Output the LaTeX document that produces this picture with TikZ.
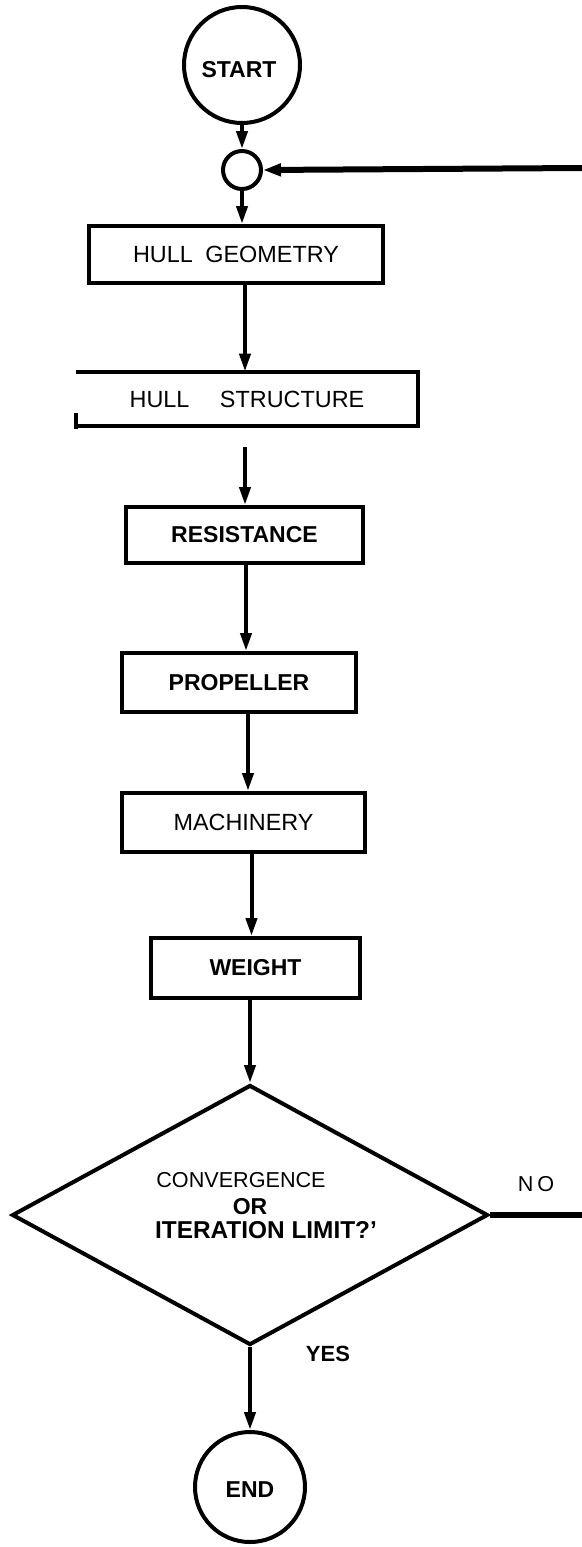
\documentclass[tikz,border=0pt]{standalone}
\usepackage{fontspec}
\setmainfont{Liberation Sans}
\usetikzlibrary{arrows.meta,shapes.geometric}

\tikzset{
  flow/.style={line width=2pt},
  arr/.style={line width=2pt, -{Triangle[length=9pt,width=5.5pt]}},
  loopline/.style={line width=3pt},
  box/.style={draw, rectangle, line width=2pt, inner sep=0pt},
  openbox/.style={rectangle, inner sep=0pt},
  term/.style={draw, circle, line width=2pt, inner sep=0pt},
  decision/.style={draw, diamond, line width=2pt, inner sep=0pt},
  reg/.style={font=\fontsize{11.7}{14}\selectfont},
  bld/.style={font=\fontsize{11.5}{14}\selectfont\bfseries},
}

\begin{document}
\begin{tikzpicture}[x=0.5pt, y=-0.5pt]
  \useasboundingbox (0,0) rectangle (582,1547);

  % terminals and junction
  \node[term, minimum size=58pt] (start) at (242,65) {};
  \node[bld] (starttxt) at (239,70) {START};
  \node[term, minimum size=19pt] (join) at (242,170) {};

  % process boxes
  \node[box, minimum width=147pt, minimum height=28.5pt, reg] (hg) at (236,254.5)
       {HULL\hspace{3pt} GEOMETRY};
  \node[openbox, minimum width=171pt, minimum height=27pt, reg] (hs) at (247,399)
       {HULL\hspace{12pt} STRUCTURE};
  \node[box, minimum width=118.5pt, minimum height=28pt, bld] (res) at (244.5,535)
       {RESISTANCE};
  \node[box, minimum width=117pt, minimum height=29.5pt, bld] (prop) at (239,682.5)
       {PROPELLER};
  \node[box, minimum width=121.5pt, minimum height=29.5pt, reg] (mach) at (243.5,822.5)
       {MACHINERY};
  \node[box, minimum width=104.5pt, minimum height=30pt, bld] (wt) at (255.5,968)
       {WEIGHT};

  % decision
  \node[decision, minimum width=238pt, minimum height=130pt] (dec) at (250,1215) {};
  \node[reg, font=\fontsize{10.8}{13}\selectfont] (q1) at (241,1180) {CONVERGENCE};
  \node[bld] (q2) at (250,1207) {OR};
  \node[bld, font=\fontsize{12.2}{14}\selectfont\bfseries] (q3) at (266,1230) {ITERATION LIMIT?'};
  \node[reg, font=\fontsize{10.8}{13}\selectfont] (no) at (536,1184) {N\hspace{2pt}O};
  \node[bld, font=\fontsize{11}{13}\selectfont\bfseries] (yes) at (328,1354) {YES};

  \node[term, minimum size=55pt] (stop) at (250,1487) {};
  \node[bld] (stoptxt) at (250,1490) {END};

  % open-ended structure box outline
  \draw[flow] (hs.north west) -- (hs.north east) -- (hs.south east) -- (hs.south west);
  \draw[flow] ([yshift=6.5pt]hs.south west) -- ([yshift=-1.5pt]hs.south west);

  % free ends of connectors
  \coordinate (ret) at (582,168);
  \coordinate (gapstart) at (245,447);
  \coordinate (noend) at (582,1215);

  % main flow
  \draw[arr] (start.south) -- (join.north);
  \draw[arr] (join.south) -- ([xshift=3pt]hg.north);
  \draw[arr] ([xshift=4.5pt]hg.south) -- ([xshift=-1pt]hs.north);
  \draw[arr] (gapstart) -- (gapstart |- res.north);
  \draw[arr] ([xshift=0.75pt]res.south) -- ([xshift=3.5pt]prop.north);
  \draw[arr] ([xshift=4.5pt]prop.south) -- ([xshift=2.25pt]mach.north);
  \draw[arr] ([xshift=4pt]mach.south) -- ([xshift=-2pt]wt.north);
  \draw[arr] (wt.south -| dec.north) -- (dec.north);
  \draw[arr] (dec.south) -- (stop.north);

  % iteration loop
  \draw[loopline] (dec.east) -- (noend);
  \draw[loopline, -{Triangle[length=9pt,width=6pt]}] (ret) -- (join.east);
\end{tikzpicture}
\end{document}
